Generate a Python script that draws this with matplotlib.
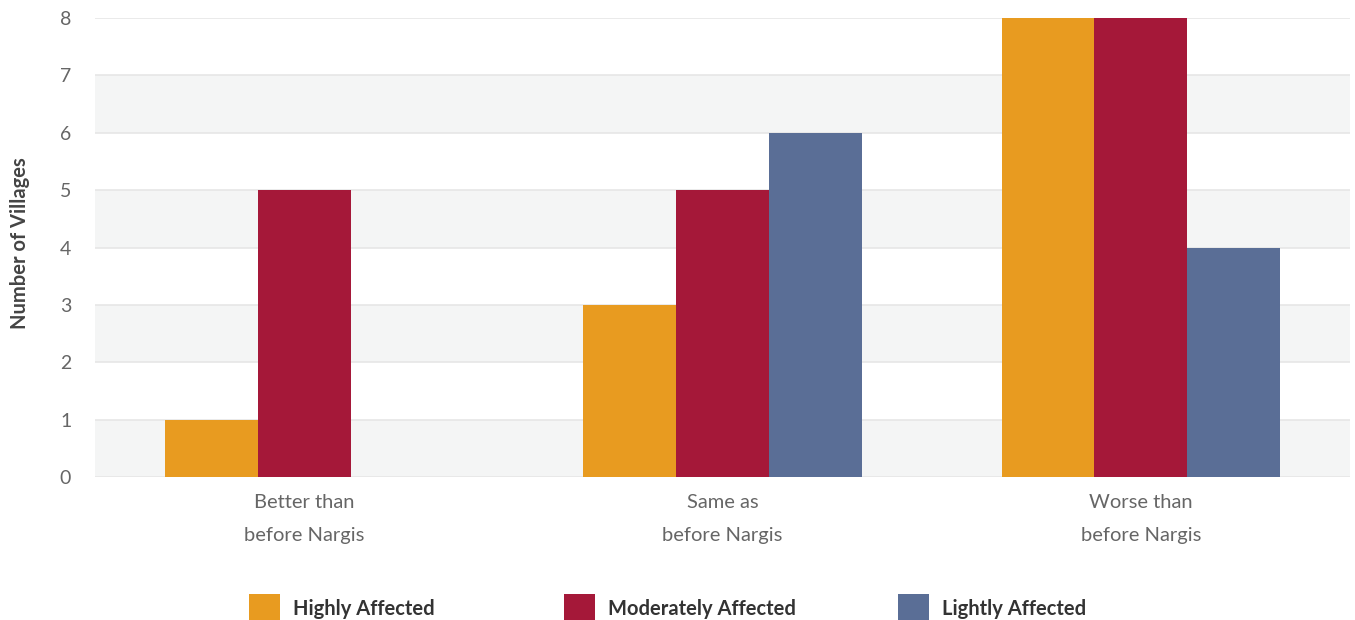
import matplotlib
matplotlib.use("Agg")
import matplotlib.pyplot as plt
from matplotlib.patches import Rectangle
import numpy as np

categories = ["Better than\nbefore Nargis", "Same as\nbefore Nargis", "Worse than\nbefore Nargis"]
series_names = ["Highly Affected", "Moderately Affected", "Lightly Affected"]
highly = [1, 3, 8]
moderately = [5, 5, 8]
lightly = [0, 6, 4]
colors = ["#E89B20", "#A51839", "#5A6E96"]
yticks = [0, 1, 2, 3, 4, 5, 6, 7, 8]

plt.rcParams['font.family'] = ['Lato', 'DejaVu Sans']

fig = plt.figure(figsize=(13.55, 6.2), dpi=100)
ax = fig.add_axes([0.0700, 0.2306, 0.9264, 0.7404])

x = np.arange(len(categories))
w = 0.222
for i, (vals, c) in enumerate(zip([highly, moderately, lightly], colors)):
    ax.bar(x + (i - 1) * w, vals, width=w, color=c, zorder=3, linewidth=0)

# alternating bands
for k in range(0, 8, 2):
    ax.axhspan(k, k + 1, color="#F4F5F5", zorder=0, linewidth=0)
for t in yticks:
    ax.axhline(t, color="#E6E6E6", linewidth=1.2, zorder=1)

ax.set_xlim(-0.5, 2.5)
ax.set_ylim(0, 8)
ax.set_yticks(yticks)
ax.set_yticklabels([str(t) for t in yticks], fontsize=14, color="#666666")
ax.set_xticks(x)
ax.set_xticklabels(categories, fontsize=14.5, color="#666666", linespacing=2.2)
ax.tick_params(axis='both', length=0)
ax.tick_params(axis='y', pad=17)
ax.tick_params(axis='x', pad=12)
for s in ax.spines.values():
    s.set_visible(False)

fig.text(0.0145, 0.608, "Number of Villages", rotation=90, ha="center", va="center",
         fontsize=14.5, fontweight="bold", color="#444444")

# legend
leg_x = [249, 564, 898]
for lx, name, c in zip(leg_x, series_names, colors):
    fig.add_artist(Rectangle((lx / 1355, -0.01), 31 / 1355, 32 / 620, transform=fig.transFigure,
                             color=c, linewidth=0))
    fig.text((lx + 44) / 1355, 0.017, name, ha="left", va="center", fontsize=14.5,
             fontweight="bold", color="#333333")

fig.savefig("out.png", dpi=100)
